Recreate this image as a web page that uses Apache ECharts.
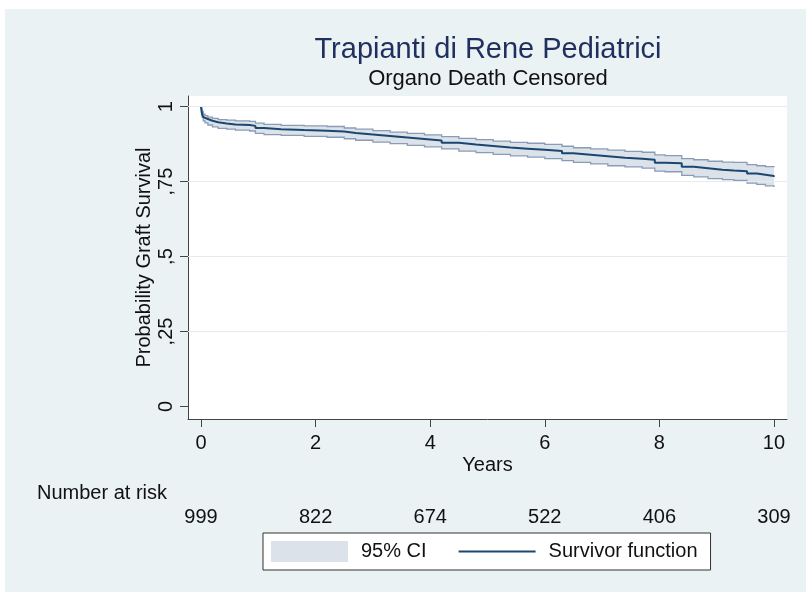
<!DOCTYPE html>
<html>
<head>
<meta charset="utf-8">
<title>Trapianti di Rene Pediatrici</title>
<script src="https://cdn.jsdelivr.net/npm/echarts@6/dist/echarts.min.js"></script>
<style>
  html, body { margin: 0; padding: 0; background: #fff; }
  #chart { width: 806px; height: 592px; }
</style>
</head>
<body>
<div id="chart"></div>
<script>
// Kaplan-Meier estimate of graft survival (years since transplant)
const timeYears = [0, 0.01, 0.02, 0.04, 0.07, 0.12, 0.2, 0.3, 0.45, 0.6, 0.85, 0.95, 1.1, 1.4, 1.8, 2.2, 2.5, 2.7, 3.0, 3.3, 3.6, 3.9, 4.2, 4.5, 4.8, 5.1, 5.4, 5.7, 6.0, 6.3, 6.5, 6.8, 7.1, 7.4, 7.7, 7.92, 8.1, 8.39, 8.6, 8.85, 9.1, 9.3, 9.53, 9.7, 9.85, 10];
const survival = [1, 0.985, 0.975, 0.965, 0.959, 0.953, 0.948, 0.944, 0.941, 0.939, 0.936, 0.929, 0.925, 0.922, 0.920, 0.917, 0.912, 0.907, 0.902, 0.897, 0.892, 0.887, 0.880, 0.874, 0.869, 0.864, 0.860, 0.856, 0.852, 0.845, 0.840, 0.835, 0.830, 0.826, 0.823, 0.813, 0.811, 0.800, 0.795, 0.790, 0.787, 0.785, 0.777, 0.773, 0.769, 0.766];
const ciUpper = [1, 0.992, 0.984, 0.975, 0.970, 0.965, 0.961, 0.957, 0.955, 0.953, 0.951, 0.945, 0.941, 0.938, 0.936, 0.934, 0.929, 0.925, 0.920, 0.915, 0.911, 0.906, 0.900, 0.894, 0.890, 0.885, 0.881, 0.878, 0.874, 0.868, 0.863, 0.859, 0.855, 0.851, 0.848, 0.839, 0.837, 0.827, 0.823, 0.818, 0.815, 0.814, 0.807, 0.803, 0.800, 0.798];
const ciLower = [1, 0.976, 0.965, 0.953, 0.946, 0.939, 0.933, 0.928, 0.925, 0.922, 0.919, 0.911, 0.907, 0.904, 0.901, 0.898, 0.893, 0.888, 0.882, 0.877, 0.871, 0.866, 0.859, 0.852, 0.847, 0.841, 0.836, 0.832, 0.827, 0.820, 0.814, 0.809, 0.803, 0.799, 0.795, 0.785, 0.783, 0.771, 0.766, 0.760, 0.757, 0.754, 0.745, 0.741, 0.736, 0.732];

// Axis ticks and the number-at-risk table
const xTicks = [0, 2, 4, 6, 8, 10];
const riskCounts = [999, 822, 674, 522, 406, 309];
const yTicks = [0, 0.25, 0.5, 0.75, 1];
const yTickLabels = ['0', ',25', ',5', ',75', '1'];
const gridValues = [0.25, 0.5, 0.75, 1];

const titleText = 'Trapianti di Rene Pediatrici';
const subtitleText = 'Organo Death Censored';
const yTitle = 'Probability Graft Survival';
const xTitle = 'Years';
const riskTitle = 'Number at risk';
const ciName = '95% CI';
const curveName = 'Survivor function';

const FONT = "'Liberation Sans', Arial, sans-serif";
const INK = '#111111';
const AXIS = '#444444';
const CURVE = '#1a476f';
const BAND_EDGE = '#8a9cb5';
const BAND_FILL = '#dce2ea';

const curveData = timeYears.map((t, i) => [t, survival[i]]);
const bandData = timeYears.map((t, i) => [t, ciLower[i], ciUpper[i]]);

// Step-shaped confidence band: one polygon plus its two edges, built in pixel space
// from the axis scales.
function renderBand(params, api) {
  if (params.dataIndex !== 0) return;
  const upper = [];
  const lower = [];
  for (let i = 0; i < bandData.length; i++) {
    const [t, lo, hi] = bandData[i];
    const pu = api.coord([t, hi]);
    const pl = api.coord([t, lo]);
    if (i > 0) {
      upper.push([pu[0], upper[upper.length - 1][1]]);
      lower.push([pl[0], lower[lower.length - 1][1]]);
    }
    upper.push(pu);
    lower.push(pl);
  }
  const polygon = upper.concat(lower.slice().reverse());
  return {
    type: 'group',
    children: [
      { type: 'polygon', shape: { points: polygon }, style: { fill: BAND_FILL, stroke: null }, silent: true },
      { type: 'polyline', shape: { points: upper }, style: { fill: null, stroke: BAND_EDGE, lineWidth: 1.3 }, silent: true },
      { type: 'polyline', shape: { points: lower }, style: { fill: null, stroke: BAND_EDGE, lineWidth: 1.3 }, silent: true }
    ]
  };
}

const chart = echarts.init(document.getElementById('chart'), null, { renderer: 'canvas' });

const option = {
  animation: false,
  backgroundColor: '#ffffff',
  textStyle: { fontFamily: FONT },
  graphic: [{
    type: 'rect',
    z: -10,
    silent: true,
    shape: { x: 5, y: 9, width: 801, height: 583 },
    style: { fill: '#eaf2f3' }
  }],
  title: [
    {
      text: titleText,
      subtext: subtitleText,
      left: 488,
      top: 35,
      textAlign: 'center',
      padding: 0,
      itemGap: 4,
      textStyle: { fontFamily: FONT, fontSize: 29, fontWeight: 'normal', color: '#1f2f5e' },
      subtextStyle: { fontFamily: FONT, fontSize: 22, color: INK }
    },
    {
      text: riskTitle,
      left: 37,
      top: 483,
      padding: 0,
      textStyle: { fontFamily: FONT, fontSize: 20, fontWeight: 'normal', color: INK }
    }
  ],
  legend: {
    left: 263,
    top: 533,
    orient: 'horizontal',
    padding: [8, 13, 8, 8],
    itemWidth: 77,
    itemHeight: 21,
    itemGap: 32,
    selectedMode: false,
    symbolKeepAspect: true,
    backgroundColor: '#ffffff',
    borderColor: '#333333',
    borderWidth: 1,
    borderRadius: 0,
    textStyle: { fontFamily: FONT, fontSize: 20, color: INK, padding: [0, 0, 0, 8] },
    data: [
      { name: ciName, icon: 'rect', itemStyle: { color: BAND_FILL, borderWidth: 0 } },
      { name: curveName, icon: 'path://M0 0H77V2H0Z', itemStyle: { color: CURVE, borderWidth: 0 } }
    ]
  },
  grid: {
    left: 188,
    top: 96,
    right: 19,
    bottom: 173,
    show: true,
    backgroundColor: '#ffffff',
    borderWidth: 0,
    containLabel: false,
    outerBoundsMode: 'none'
  },
  xAxis: [
    {
      type: 'value',
      min: -0.227,
      max: 10.227,
      position: 'bottom',
      name: xTitle,
      nameLocation: 'middle',
      nameGap: 36,
      nameMoveOverlap: false,
      nameTextStyle: { fontFamily: FONT, fontSize: 20, color: INK },
      axisLine: { show: true, onZero: false, lineStyle: { color: AXIS, width: 1 } },
      axisTick: { show: true, length: 8, customValues: xTicks, lineStyle: { color: AXIS, width: 1 } },
      axisLabel: {
        customValues: xTicks,
        margin: 14,
        fontFamily: FONT,
        fontSize: 20,
        color: INK,
        formatter: v => String(v)
      },
      splitLine: { show: false }
    },
    {
      type: 'value',
      min: -0.227,
      max: 10.227,
      position: 'bottom',
      axisLine: { show: false, onZero: false },
      axisTick: { show: false },
      axisLabel: {
        customValues: xTicks,
        margin: 88,
        fontFamily: FONT,
        fontSize: 20,
        color: INK,
        formatter: v => String(riskCounts[xTicks.indexOf(v)])
      },
      splitLine: { show: false }
    }
  ],
  yAxis: {
    type: 'value',
    min: -0.042,
    max: 1.0357,
    name: yTitle,
    nameLocation: 'middle',
    nameRotate: 90,
    nameGap: 34,
    nameMoveOverlap: false,
    nameTextStyle: { fontFamily: FONT, fontSize: 20, color: INK },
    axisLine: { show: true, onZero: false, lineStyle: { color: AXIS, width: 1 } },
    axisTick: { show: true, length: 8, customValues: yTicks, lineStyle: { color: AXIS, width: 1 } },
    axisLabel: {
      customValues: yTicks,
      rotate: 90,
      margin: 12,
      fontFamily: FONT,
      fontSize: 20,
      color: INK,
      formatter: v => yTickLabels[yTicks.indexOf(v)]
    },
    splitLine: { show: false }
  },
  series: [
    {
      name: 'gridlines',
      type: 'line',
      data: [],
      z: 1,
      silent: true,
      markLine: {
        silent: true,
        symbol: ['none', 'none'],
        label: { show: false },
        lineStyle: { color: '#e4ecef', width: 1, type: 'solid' },
        emphasis: { disabled: true },
        data: gridValues.map(v => ({ yAxis: v }))
      }
    },
    {
      name: ciName,
      type: 'custom',
      data: bandData,
      encode: { x: 0, y: [1, 2] },
      z: 2,
      silent: true,
      itemStyle: { color: BAND_FILL },
      renderItem: renderBand
    },
    {
      name: curveName,
      type: 'line',
      step: 'end',
      data: curveData,
      symbol: 'none',
      z: 4,
      lineStyle: { color: CURVE, width: 2 },
      itemStyle: { color: CURVE },
      emphasis: { disabled: true }
    }
  ]
};

chart.setOption(option);
</script>
</body>
</html>
